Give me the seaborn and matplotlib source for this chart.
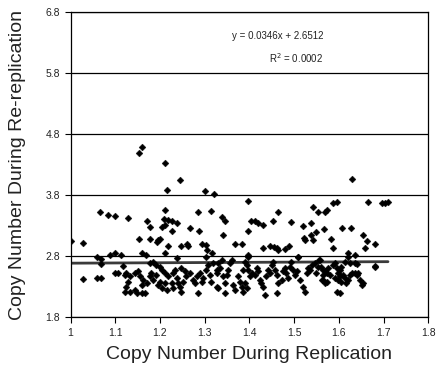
import matplotlib
matplotlib.use("Agg")
import matplotlib.pyplot as plt
import seaborn as sns
import pandas as pd
import numpy as np

# sparse points above the main cluster
rep_hi = [1.153, 1.159, 1.002, 1.028, 1.065, 1.083, 1.099, 1.128, 1.172, 1.177, 1.153, 1.177, 1.196,
          1.059, 1.068, 1.068, 1.089, 1.099, 1.112, 1.159, 1.169, 1.028, 1.059, 1.068,
          1.211, 1.245, 1.215, 1.300, 1.321, 1.397, 1.211, 1.284, 1.315, 1.339, 1.345, 1.209, 1.218,
          1.226, 1.237, 1.205, 1.211, 1.227, 1.267, 1.288, 1.341, 1.397, 1.199, 1.193,
          1.217, 1.248, 1.260, 1.262, 1.293, 1.304, 1.306, 1.317, 1.368, 1.384, 1.211, 1.237, 1.304, 1.396,
          1.464, 1.543, 1.554, 1.569, 1.573, 1.587, 1.597, 1.403, 1.412, 1.420, 1.431,
          1.452, 1.494, 1.520, 1.538, 1.567, 1.523, 1.524, 1.538, 1.543, 1.549, 1.582, 1.588,
          1.431, 1.446, 1.455, 1.461, 1.464, 1.479, 1.489, 1.397, 1.509, 1.555,
          1.630, 1.666, 1.696, 1.703, 1.711, 1.608, 1.627, 1.655, 1.664, 1.682, 1.658,
          1.620, 1.621, 1.636, 1.640, 1.682, 1.682]
rerep_hi = [4.49, 4.59, 3.05, 3.01, 3.53, 3.47, 3.46, 3.42, 3.38, 3.28, 3.08, 3.08, 3.07,
            2.79, 2.75, 2.67, 2.82, 2.86, 2.82, 2.86, 2.82, 2.42, 2.45, 2.45,
            4.32, 4.05, 3.89, 3.87, 3.82, 3.71, 3.55, 3.52, 3.54, 3.45, 3.38, 3.41, 3.40,
            3.37, 3.35, 3.28, 3.31, 3.22, 3.26, 3.21, 3.15, 3.22, 3.08, 3.04,
            2.96, 2.96, 3.00, 2.96, 3.00, 2.99, 2.90, 2.85, 3.00, 3.00, 2.86, 2.77, 2.79, 2.79,
            3.53, 3.61, 3.53, 3.53, 3.55, 3.67, 3.68, 3.38, 3.37, 3.34, 3.31,
            3.38, 3.36, 3.30, 3.34, 3.24, 3.10, 3.06, 3.15, 3.07, 3.19, 3.08, 2.93,
            2.93, 2.97, 2.95, 2.93, 2.90, 2.91, 2.96, 2.82, 2.78, 2.73,
            4.06, 3.69, 3.67, 3.67, 3.68, 3.26, 3.26, 3.14, 3.05, 3.00, 2.93,
            2.86, 2.79, 2.82, 2.67, 2.64, 2.62]

# main cluster, left part
rep_a = [1.118, 1.099, 1.107, 1.125, 1.133, 1.121, 1.129, 1.125, 1.121, 1.133, 1.144, 1.148, 1.159, 1.166,
         1.144, 1.151, 1.155, 1.162, 1.159, 1.170, 1.177, 1.181, 1.185, 1.192, 1.196, 1.200, 1.204, 1.211,
         1.215, 1.177, 1.185, 1.192, 1.200, 1.204, 1.211, 1.218, 1.230, 1.233, 1.237, 1.241, 1.245, 1.248,
         1.252, 1.259, 1.267, 1.274, 1.278, 1.282, 1.289, 1.293, 1.297, 1.304, 1.308, 1.312, 1.315, 1.319,
         1.248, 1.256, 1.226, 1.230, 1.286, 1.327, 1.327]
rerep_a = [2.64, 2.53, 2.52, 2.53, 2.47, 2.49, 2.38, 2.30, 2.22, 2.22, 2.25, 2.19, 2.19, 2.20,
           2.52, 2.55, 2.47, 2.41, 2.33, 2.36, 2.47, 2.52, 2.41, 2.49, 2.33, 2.38, 2.28, 2.36,
           2.25, 2.69, 2.71, 2.66, 2.63, 2.58, 2.52, 2.47, 2.52, 2.58, 2.44, 2.36, 2.30, 2.22,
           2.38, 2.47, 2.52, 2.41, 2.36, 2.47, 2.52, 2.38, 2.44, 2.58, 2.66, 2.49, 2.38, 2.69,
           2.60, 2.55, 2.36, 2.28, 2.19, 2.30, 2.58]

# main cluster, middle part
rep_b = [1.330, 1.338, 1.334, 1.327, 1.341, 1.349, 1.356, 1.360, 1.353, 1.345, 1.330, 1.345, 1.364, 1.368,
         1.375, 1.379, 1.383, 1.386, 1.390, 1.394, 1.390, 1.394, 1.386, 1.397, 1.401, 1.405, 1.412, 1.416,
         1.420, 1.424, 1.427, 1.431, 1.435, 1.438, 1.442, 1.446, 1.450, 1.453, 1.457, 1.461, 1.465, 1.461,
         1.472, 1.476, 1.479, 1.483, 1.487, 1.491, 1.494, 1.498, 1.502, 1.506, 1.509, 1.513, 1.521, 1.524,
         1.528, 1.532, 1.535, 1.539, 1.547, 1.550, 1.554, 1.562, 1.565, 1.558]
rerep_b = [2.685, 2.74, 2.60, 2.52, 2.47, 2.49, 2.69, 2.74, 2.58, 2.36, 2.28, 2.19, 2.33, 2.25,
           2.47, 2.38, 2.30, 2.22, 2.36, 2.28, 2.71, 2.66, 2.575, 2.575, 2.47, 2.52, 2.49, 2.60,
           2.55, 2.41, 2.36, 2.30, 2.17, 2.47, 2.575, 2.52, 2.66, 2.71, 2.575, 2.49, 2.36, 2.19,
           2.41, 2.55, 2.60, 2.52, 2.44, 2.63, 2.71, 2.575, 2.49, 2.55, 2.79, 2.41, 2.30, 2.22,
           2.52, 2.60, 2.575, 2.66, 2.69, 2.52, 2.63, 2.41, 2.49, 2.74]

# main cluster, right part
rep_c = [1.561, 1.565, 1.569, 1.573, 1.576, 1.580, 1.588, 1.591, 1.595, 1.599, 1.603, 1.606, 1.591, 1.599,
         1.603, 1.606, 1.610, 1.614, 1.617, 1.621, 1.625, 1.629, 1.636, 1.640, 1.643, 1.647, 1.651, 1.655,
         1.573, 1.569, 1.565, 1.595, 1.603, 1.636, 1.614, 1.625]
rerep_c = [2.63, 2.575, 2.55, 2.52, 2.60, 2.49, 2.657, 2.685, 2.60, 2.52, 2.575, 2.63, 2.44, 2.41,
           2.47, 2.384, 2.49, 2.44, 2.357, 2.41, 2.49, 2.52, 2.52, 2.49, 2.52, 2.41, 2.33, 2.357,
           2.384, 2.357, 2.411, 2.22, 2.204, 2.685, 2.712, 2.685]

# linear trend as printed on the chart
slope = 0.0346
intercept = 2.6512
r2 = 0.0002
trend_x = [1.0, 1.71]

df = pd.DataFrame({
    'rep': rep_hi + rep_a + rep_b + rep_c,
    'rerep': rerep_hi + rerep_a + rerep_b + rerep_c,
})

sns.set_style("white")
plt.rcParams['font.family'] = ['Liberation Sans', 'DejaVu Sans']

fig = plt.figure(figsize=(4.41, 3.75), dpi=100)
ax = fig.add_axes([0.160, 0.154, 0.811, 0.814])

for yv in np.arange(1.8, 6.81, 1.0):
    ax.axhline(yv, color='black', lw=0.9, zorder=1)

sns.scatterplot(data=df, x='rep', y='rerep', marker='D', s=12, color='black',
                edgecolor='black', linewidth=0.3, ax=ax, zorder=3)

tx = np.array(trend_x)
ax.plot(tx, slope * tx + intercept, color='#3a3a3a', lw=2.0, zorder=2)

ax.text(1.565, 6.41, f"y = {slope}x + {intercept}", ha='right', va='center', fontsize=7, color='#222222')
ax.text(1.565, 6.05, f"R$^2$ = {r2}", ha='right', va='center', fontsize=7, color='#222222')

ax.set_xlim(1.0, 1.8)
ax.set_ylim(1.8, 6.8)
ax.set_xticks(np.arange(1.0, 1.81, 0.1))
ax.set_xticklabels(['1', '1.1', '1.2', '1.3', '1.4', '1.5', '1.6', '1.7', '1.8'])
ax.set_yticks(np.arange(1.8, 6.81, 1.0))
ax.set_yticklabels(['1.8', '2.8', '3.8', '4.8', '5.8', '6.8'])
ax.tick_params(axis='both', direction='out', length=4, width=0.8, labelsize=7.5,
               color='black', labelcolor='#222222')
ax.tick_params(axis='x', bottom=True)
ax.tick_params(axis='y', left=True)
for sp in ax.spines.values():
    sp.set_color('black')
    sp.set_linewidth(0.9)

ax.set_xlabel('Copy Number During Replication', fontsize=14, labelpad=6, color='#222222')
ax.set_ylabel('Copy Number During Re-replication', fontsize=14, labelpad=14, color='#222222')

fig.savefig('out.png', dpi=100)
